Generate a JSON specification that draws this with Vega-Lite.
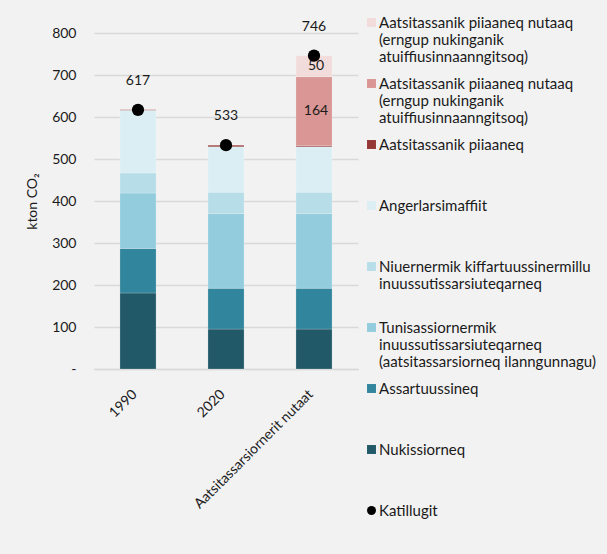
{
  "$schema": "https://vega.github.io/schema/vega-lite/v6.json",
  "width": 264,
  "height": 336,
  "autosize": {"type": "none"},
  "padding": {"left": 94, "top": 33, "right": 249, "bottom": 185},
  "background": "#f2f2f2",
  "config": {
    "font": "Lato",
    "view": {"stroke": null},
    "axis": {"labelFont": "Lato", "labelFontSize": 14, "labelColor": "#1a1a1a", "titleFont": "Lato", "titleFontSize": 14, "titleFontWeight": "normal", "titleColor": "#1a1a1a"}
  },
  "datasets": {
    "segs": [
      {"bar": "1990", "cat": "8|Nukissiorneq", "value": 181},
      {"bar": "1990", "cat": "7|Assartuussineq", "value": 106},
      {"bar": "1990", "cat": "6|Tunisassiornermik|inuussutissarsiuteqarneq|(aatsitassarsiorneq ilanngunnagu)", "value": 132},
      {"bar": "1990", "cat": "5|Niuernermik kiffartuussinermillu|inuussutissarsiuteqarneq", "value": 48},
      {"bar": "1990", "cat": "4|Angerlarsimaffiit", "value": 149},
      {"bar": "1990", "cat": "3|Aatsitassanik piiaaneq", "value": 1},
      {"bar": "2020", "cat": "8|Nukissiorneq", "value": 95},
      {"bar": "2020", "cat": "7|Assartuussineq", "value": 97},
      {"bar": "2020", "cat": "6|Tunisassiornermik|inuussutissarsiuteqarneq|(aatsitassarsiorneq ilanngunnagu)", "value": 178},
      {"bar": "2020", "cat": "5|Niuernermik kiffartuussinermillu|inuussutissarsiuteqarneq", "value": 51},
      {"bar": "2020", "cat": "4|Angerlarsimaffiit", "value": 108},
      {"bar": "2020", "cat": "3|Aatsitassanik piiaaneq", "value": 4},
      {"bar": "Aatsitassarsiornerit nutaat", "cat": "8|Nukissiorneq", "value": 95},
      {"bar": "Aatsitassarsiornerit nutaat", "cat": "7|Assartuussineq", "value": 97},
      {"bar": "Aatsitassarsiornerit nutaat", "cat": "6|Tunisassiornermik|inuussutissarsiuteqarneq|(aatsitassarsiorneq ilanngunnagu)", "value": 178},
      {"bar": "Aatsitassarsiornerit nutaat", "cat": "5|Niuernermik kiffartuussinermillu|inuussutissarsiuteqarneq", "value": 51},
      {"bar": "Aatsitassarsiornerit nutaat", "cat": "4|Angerlarsimaffiit", "value": 108},
      {"bar": "Aatsitassarsiornerit nutaat", "cat": "3|Aatsitassanik piiaaneq", "value": 3},
      {"bar": "Aatsitassarsiornerit nutaat", "cat": "2|Aatsitassanik piiaaneq nutaaq|(erngup nukinganik|atuiffiusinnaanngitsoq)", "value": 164},
      {"bar": "Aatsitassarsiornerit nutaat", "cat": "1|Aatsitassanik piiaaneq nutaaq|(erngup nukinganik|atuiffiusinnaanngitsoq)", "value": 50}
    ],
    "totals": [
      {"bar": "1990", "cat": "9|Katillugit", "total": 617},
      {"bar": "2020", "cat": "9|Katillugit", "total": 533},
      {"bar": "Aatsitassarsiornerit nutaat", "cat": "9|Katillugit", "total": 746}
    ]
  },
  "encoding": {
    "x": {
      "field": "bar", "type": "nominal", "sort": ["1990", "2020", "Aatsitassarsiornerit nutaat"],
      "scale": {"paddingInner": 0.59, "paddingOuter": 0.295},
      "axis": {"title": null, "labelAngle": -45, "ticks": false, "domain": true, "domainColor": "#d9d9d9", "domainWidth": 1.5, "labelPadding": 18, "labelOffset": -8, "grid": false}
    }
  },
  "layer": [
    {
      "data": {"name": "segs"},
      "transform": [
        {"stack": "value", "groupby": ["bar"], "sort": [{"field": "cat", "order": "descending"}], "as": ["v0", "v1"]}
      ],
      "mark": {"type": "bar", "stroke": "#ffffff", "strokeOpacity": 0.25, "strokeWidth": 0.8},
      "encoding": {
        "y": {
          "field": "v0", "type": "quantitative",
          "scale": {"domain": [0, 800], "nice": false},
          "axis": {"title": "kton CO₂", "values": [0, 100, 200, 300, 400, 500, 600, 700, 800], "labelExpr": "datum.value == 0 ? '-' : datum.label", "ticks": false, "domain": false, "labelPadding": 18, "titlePadding": 12, "gridColor": "#d9d9d9", "gridWidth": 1.5}
        },
        "y2": {"field": "v1"},
        "color": {
          "field": "cat", "type": "nominal",
          "scale": {
            "domain": [
              "1|Aatsitassanik piiaaneq nutaaq|(erngup nukinganik|atuiffiusinnaanngitsoq)",
              "2|Aatsitassanik piiaaneq nutaaq|(erngup nukinganik|atuiffiusinnaanngitsoq)",
              "3|Aatsitassanik piiaaneq",
              "4|Angerlarsimaffiit",
              "5|Niuernermik kiffartuussinermillu|inuussutissarsiuteqarneq",
              "6|Tunisassiornermik|inuussutissarsiuteqarneq|(aatsitassarsiorneq ilanngunnagu)",
              "7|Assartuussineq",
              "8|Nukissiorneq",
              "9|Katillugit"
            ],
            "range": ["#f2dcdb", "#d99694", "#953735", "#dbeef4", "#b7dee8", "#93cddd", "#31859c", "#215968", "#000000"]
          },
          "legend": {
            "title": null,
            "orient": "none",
            "legendX": 270,
            "legendY": -18,
            "labelExpr": "slice(split(datum.value, '|'), 1)",
            "labelFont": "Lato",
            "labelFontSize": 15,
            "labelColor": "#1a1a1a",
            "labelLimit": 0,
            "labelOffset": 0,
            "gridAlign": "all",
            "rowPadding": 11,
            "symbolSize": 80,
            "symbolStrokeWidth": 0,
            "encode": {
              "labels": {"update": {"lineHeight": {"value": 19.3}}}
            }
          }
        }
      }
    },
    {
      "data": {"name": "segs"},
      "transform": [
        {"stack": "value", "groupby": ["bar"], "sort": [{"field": "cat", "order": "descending"}], "as": ["v0", "v1"]},
        {"filter": "datum.bar == 'Aatsitassarsiornerit nutaat' && indexof(datum.cat, 'nutaaq') >= 0"},
        {"calculate": "(datum.v0 + datum.v1) / 2", "as": "mid"}
      ],
      "mark": {"type": "text", "font": "Lato", "fontSize": 14, "color": "#1a1a1a", "baseline": "middle", "dx": 2},
      "encoding": {
        "y": {"field": "mid", "type": "quantitative"},
        "text": {"field": "value", "type": "quantitative"}
      }
    },
    {
      "data": {"name": "totals"},
      "mark": {"type": "point", "filled": true, "size": 150, "opacity": 1},
      "encoding": {
        "y": {"field": "total", "type": "quantitative"},
        "color": {"field": "cat", "type": "nominal"},
        "shape": {
          "field": "cat", "type": "nominal",
          "scale": {
            "domain": [
              "1|Aatsitassanik piiaaneq nutaaq|(erngup nukinganik|atuiffiusinnaanngitsoq)",
              "2|Aatsitassanik piiaaneq nutaaq|(erngup nukinganik|atuiffiusinnaanngitsoq)",
              "3|Aatsitassanik piiaaneq",
              "4|Angerlarsimaffiit",
              "5|Niuernermik kiffartuussinermillu|inuussutissarsiuteqarneq",
              "6|Tunisassiornermik|inuussutissarsiuteqarneq|(aatsitassarsiorneq ilanngunnagu)",
              "7|Assartuussineq",
              "8|Nukissiorneq",
              "9|Katillugit"
            ],
            "range": ["square", "square", "square", "square", "square", "square", "square", "square", "circle"]
          },
          "legend": {
            "title": null,
            "orient": "none",
            "legendX": 270,
            "legendY": -18,
            "labelExpr": "slice(split(datum.value, '|'), 1)",
            "labelFont": "Lato",
            "labelFontSize": 15,
            "labelColor": "#1a1a1a",
            "labelLimit": 0,
            "labelOffset": 0,
            "gridAlign": "all",
            "rowPadding": 11,
            "symbolSize": 80,
            "symbolStrokeWidth": 0,
            "encode": {
              "labels": {"update": {"lineHeight": {"value": 19.3}}}
            }
          }
        }
      }
    },
    {
      "data": {"name": "totals"},
      "mark": {"type": "text", "font": "Lato", "fontSize": 14, "color": "#1a1a1a", "baseline": "middle", "dy": -29},
      "encoding": {
        "y": {"field": "total", "type": "quantitative"},
        "text": {"field": "total", "type": "quantitative"}
      }
    }
  ]
}
